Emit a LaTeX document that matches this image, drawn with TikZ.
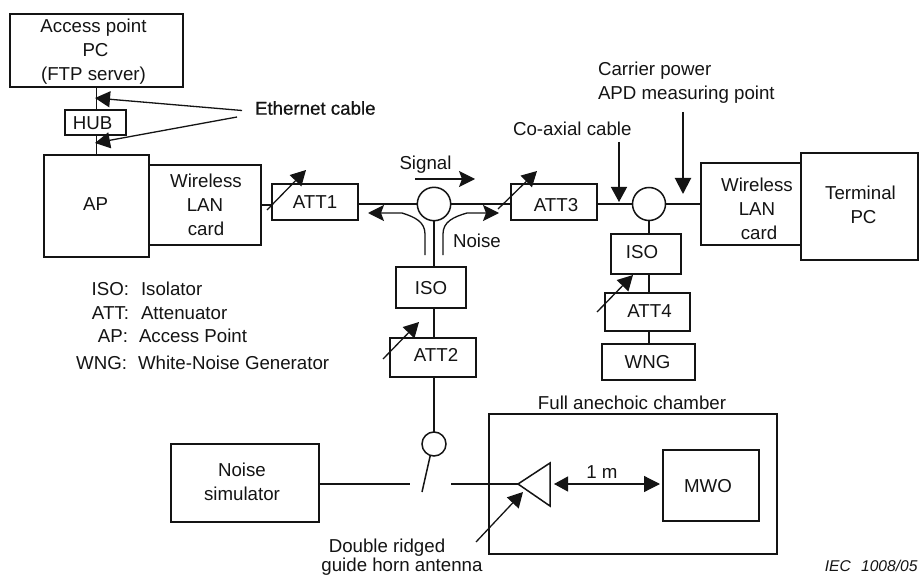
\documentclass[tikz,border=0pt]{standalone}
\usepackage{fontspec}
\setmainfont{Liberation Sans}
\usetikzlibrary{arrows.meta,calc}
\definecolor{ink}{gray}{0.08}
\tikzset{
  txt/.style={inner sep=0pt,outer sep=0pt,text=ink,align=center,text height=13.4pt,text depth=0pt,
    font=\fontsize{18.7}{24}\selectfont},
  box/.style={draw=ink,line width=1.5pt,rectangle,inner sep=0pt,outer sep=0pt,fill=white},
  ring/.style={draw=ink,line width=1.5pt,circle,inner sep=0pt,outer sep=0pt},
  wire/.style={draw=ink,line width=1.5pt},
  tip/.style={draw=ink,line width=1.3pt,-{Stealth[length=16pt,width=16pt,inset=3pt]}},
  ltip/.style={draw=ink,line width=1.3pt,-{Triangle[length=15pt,width=16pt]}},
}
\begin{document}
\begin{tikzpicture}[x=1pt,y=-1pt]
\useasboundingbox (0,0) rectangle (919,575);
\fill[white] (0,0) rectangle (919,575);

% boxes
\node[box,minimum width=173,minimum height=73,label={[txt,yshift=-23.5,xshift=-3]center:Access point\\\hspace*{4pt}PC\\(FTP server)}] (pc) at (96.5,50.5) {};
\node[box,minimum width=61,minimum height=25,label={[txt,xshift=-3]center:HUB}] (hub) at (95.5,122.5) {};
\node[box,minimum width=105,minimum height=102,label={[txt,xshift=-1,yshift=2]center:AP}] (ap) at (96.5,206) {};
\node[box,minimum width=112,minimum height=80,label={[txt,yshift=-24]center:\hspace*{2pt}Wireless\\LAN\\\hspace*{2pt}card}] (wl1) at (205,205) {};
\node[box,minimum width=86,minimum height=36,label={[txt]center:ATT1}] (att1) at (315,202) {};
\node[box,minimum width=86,minimum height=36,label={[txt,xshift=2,yshift=-3]center:ATT3}] (att3) at (554,202) {};
\node[box,minimum width=100,minimum height=82,label={[txt,xshift=6,yshift=-29]center:Wireless\\LAN\\\hspace*{4pt}card}] (wl2) at (751,204) {};
\node[box,minimum width=117,minimum height=107,label={[txt,xshift=1,yshift=-10.5]center:Terminal\\\hspace*{6pt}PC}] (term) at (859.5,206.5) {};
\node[box,minimum width=70,minimum height=40,label={[txt,xshift=-4,yshift=2]center:ISO}] (isob) at (646,254) {};
\node[box,minimum width=85,minimum height=38,label={[txt,xshift=2,yshift=1]center:ATT4}] (att4) at (647.5,312) {};
\node[box,minimum width=93,minimum height=36,label={[txt,xshift=-1,yshift=0]center:WNG}] (wng) at (648.5,362) {};
\node[box,minimum width=70,minimum height=41,label={[txt,yshift=0]center:ISO}] (isoa) at (431,287.5) {};
\node[box,minimum width=86,minimum height=39,label={[txt,xshift=3,yshift=2.5]center:ATT2}] (att2) at (433,357.5) {};
\node[box,minimum width=148,minimum height=78,label={[txt,xshift=-3,yshift=-11]center:Noise\\simulator}] (noise) at (245,483) {};
\node[box,minimum width=288,minimum height=140] (room) at (633,484) {};
\node[box,minimum width=96,minimum height=71,label={[txt,xshift=-3,yshift=0]center:MWO}] (mwo) at (711,485.5) {};

% circles
\node[ring,minimum size=33.4] (ca) at (434,204) {};
\node[ring,minimum size=33] (cb) at (649,204) {};
\node[ring,minimum size=24] (cc) at (434,444) {};

% free ends
\coordinate (sw) at (422,492);
\coordinate (swl) at (410,484);
\coordinate (swr) at (451,484);
\coordinate (ha) at (518,484);
\coordinate (hb) at (550,463);
\coordinate (hc) at (550,506);

% wires
\draw[wire] (pc.south) -- (pc.south |- hub.north);
\draw[wire] (ap.north) -- (ap.north |- hub.south);
\draw[wire] (wl1.east) -- (att1.west |- wl1.east);
\draw[wire] (att1.east |- ca.west) -- (ca.west);
\draw[wire] (ca.east) -- (att3.west |- ca.east);
\draw[wire] (att3.east |- cb.west) -- (cb.west);
\draw[wire] (cb.east) -- (wl2.west |- cb.east);
\draw[wire] (cb.south) -- (cb.south |- isob.north);
\draw[wire] (cb.south |- isob.south) -- (cb.south |- att4.north);
\draw[wire] (cb.south |- att4.south) -- (cb.south |- wng.north);
\draw[wire] (ca.south) -- (ca.south |- isoa.north);
\draw[wire] (ca.south |- isoa.south) -- (ca.south |- att2.north);
\draw[wire] (ca.south |- att2.south) -- (cc.north);
\draw[wire] (cc.-108) -- (sw);
\draw[wire] (noise.east |- swl) -- (swl);
\draw[wire] (swr) -- (ha);
\draw[wire,line join=miter] (ha) -- (hb) -- (hc) -- cycle;

% variable attenuator arrows
\coordinate (a1s) at (267,210); \coordinate (a1e) at (306,170);
\coordinate (a3s) at (498,209); \coordinate (a3e) at (537,171);
\coordinate (a4s) at (597,312); \coordinate (a4e) at (633,275);
\coordinate (a2s) at (383,359); \coordinate (a2e) at (419,322);
\draw[ltip] (a1s) -- (a1e);
\draw[ltip] (a3s) -- (a3e);
\draw[ltip] (a4s) -- (a4e);
\draw[ltip] (a2s) -- (a2e);

% ethernet
\node[txt,anchor=west,font=\fontsize{18.7}{24}\selectfont\addfontfeatures{FakeBold=0.5}] (eth) at (255,108) {Ethernet cable};
\coordinate (e1) at (242,110.5); \coordinate (e1t) at (95,98);
\coordinate (e2) at (237,117); \coordinate (e2t) at (95,143);
\draw[ltip] (e1) -- (e1t);
\draw[ltip] (e2) -- (e2t);

% signal and noise
\node[txt] (sig) at (425.5,163) {Signal};
\coordinate (s1) at (415,179); \coordinate (s2) at (475,179);
\draw[tip] (s1) -- (s2);
\node[txt] (nz) at (477,241) {Noise};
\coordinate (n1) at (425,255); \coordinate (n2) at (368,213);
\coordinate (n3) at (443,255); \coordinate (n4) at (499,213);
\draw[tip] (n1) -- (425,234) .. controls (425,222) and (415,217) .. (402,213) -- (n2);
\draw[tip] (n3) -- (443,234) .. controls (443,222) and (453,217) .. (467,213) -- (n4);

% coaxial and measuring point
\node[txt,anchor=west] (coax) at (513,129) {Co-axial cable};
\coordinate (k1) at (619,142); \coordinate (k2) at (619,202);
\draw[ltip] (k1) -- (k2);
\node[txt,anchor=west,align=left] (carrier) at (598,93) {Carrier power\\APD measuring point};
\coordinate (m1) at (683,112); \coordinate (m2) at (683,194);
\draw[draw=ink,line width=2pt,-{Triangle[length=16pt,width=16pt]}] (m1) -- (m2);

% legend
\node[txt,anchor=east] (l1) at (129,289) {ISO:};
\node[txt,anchor=west] (l1b) at (141,289) {Isolator};
\node[txt,anchor=east] (l2) at (129,313) {ATT:};
\node[txt,anchor=west] (l2b) at (141,313) {Attenuator};
\node[txt,anchor=east] (l3) at (128,336) {AP:};
\node[txt,anchor=west] (l3b) at (139,336) {Access Point};
\node[txt,anchor=east] (l4) at (127,363) {WNG:};
\node[txt,anchor=west] (l4b) at (138,363) {White-Noise Generator};

% chamber
\node[txt] (fac) at (632,403) {Full anechoic chamber};
\coordinate (d1) at (554,484); \coordinate (d2) at (660,484);
\draw[draw=ink,line width=1.2pt,{Triangle[length=14pt,width=15pt]}-{Triangle[length=16pt,width=16pt]}] (d1) -- (d2);
\node[txt] (onem) at (602,472) {1 m};
\coordinate (h1) at (476,542); \coordinate (h2) at (523,492);
\draw[ltip] (h1) -- (h2);
\node[txt] (horn) at (387,546) {Double ridged};
\node[txt] (horn2) at (402,564.5) {guide horn antenna};
\node[txt,anchor=east,font=\fontsize{15.6}{18}\itshape,text height=11pt] (iec) at (917.5,566) {IEC\hspace{6pt} 1008/05};
\end{tikzpicture}
\end{document}
